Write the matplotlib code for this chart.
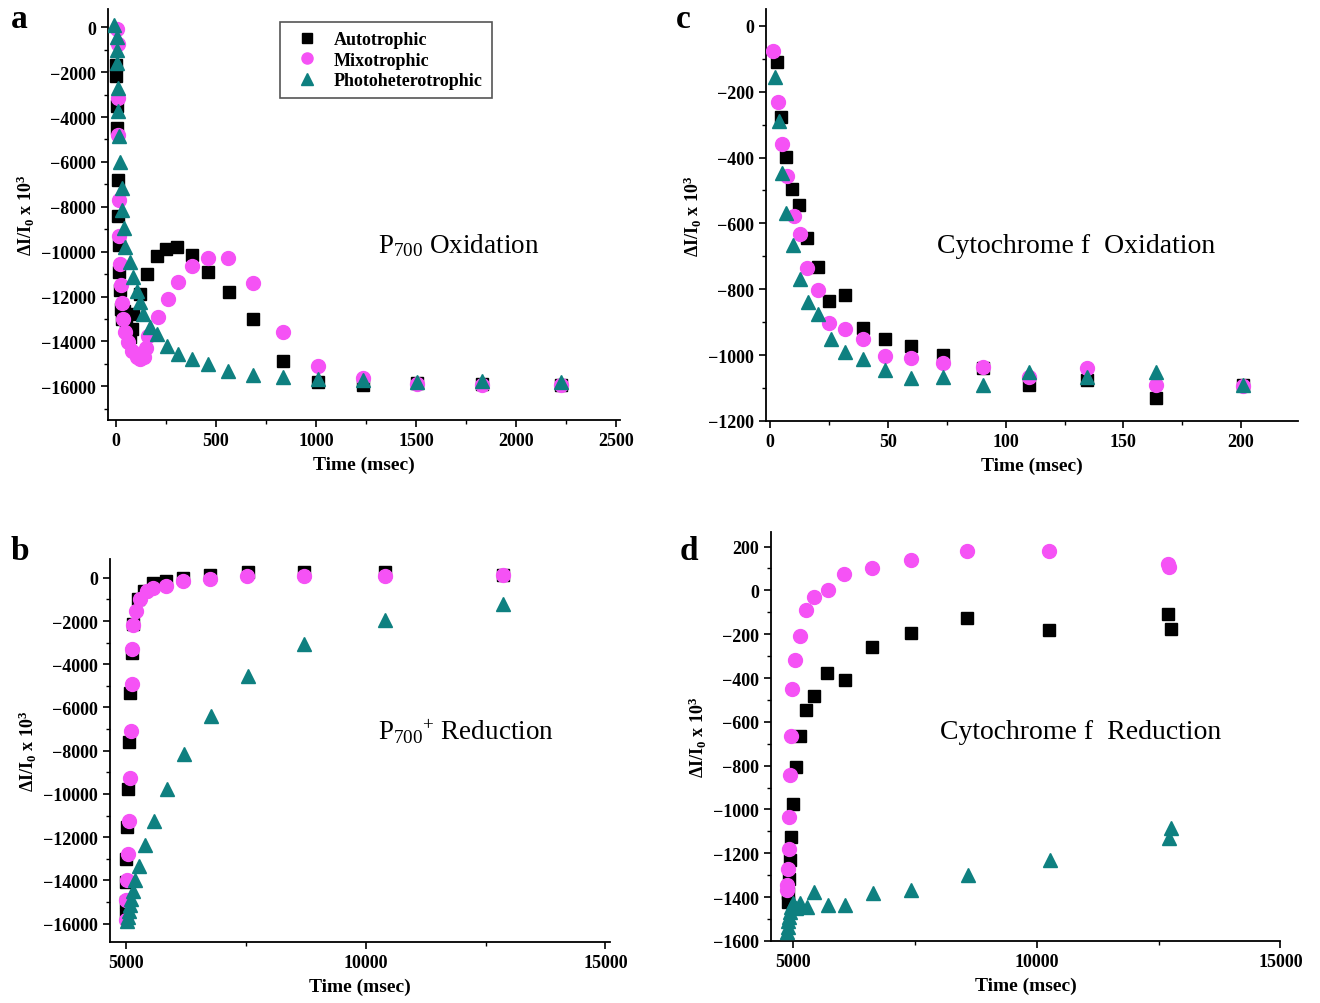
import matplotlib
matplotlib.use('Agg')
import matplotlib.pyplot as plt
from matplotlib.ticker import MultipleLocator

plt.rcParams['font.family'] = ['Liberation Serif', 'DejaVu Serif']
plt.rcParams['mathtext.fontset'] = 'custom'
plt.rcParams['mathtext.rm'] = 'Liberation Serif'
plt.rcParams['mathtext.bf'] = 'Liberation Serif:bold'
plt.rcParams['mathtext.it'] = 'Liberation Serif:italic'

# ---------------------------------------------------------------------------
# Data
# ---------------------------------------------------------------------------
# (a) P700 oxidation
a_auto_t = [0, 2, 4, 6, 8, 10, 13, 16, 20, 25, 30, 40, 50, 70, 80, 85, 120,
            155, 205, 250, 305, 380, 460, 565, 685, 835, 1010, 1235, 1505,
            1830, 2225]
a_auto_y = [-1700, -2150, -3500, -4480, -6800, -8430, -9700, -10900, -11700,
            -12550, -13000, -12630, -13200, -13800, -13440, -12770, -11870,
            -10980, -10200, -9860, -9810, -10170, -10900, -11780, -13000,
            -14870, -15800, -15950, -15850, -15900, -15950]
a_mixo_t = [5, 8, 10, 12, 14, 16, 20, 25, 30, 35, 45, 60, 80, 105, 120, 140,
            150, 160, 210, 260, 310, 380, 460, 560, 685, 835, 1010, 1235,
            1505, 1830, 2225]
a_mixo_y = [-90, -760, -3140, -4790, -7700, -9320, -10530, -11500, -12300,
            -12990, -13580, -14030, -14420, -14700, -14780, -14700, -14300,
            -13750, -12900, -12100, -11340, -10650, -10270, -10270, -11380,
            -13570, -15100, -15650, -15900, -15950, -15950]
a_photo_t = [-10, 5, 6, 7, 9, 10, 14, 22, 28, 32, 40, 45, 70, 85, 105, 120,
             135, 170, 205, 255, 310, 380, 460, 560, 685, 835, 1010, 1235,
             1505, 1830, 2225]
a_photo_y = [90, -450, -1030, -1570, -2690, -3720, -4840, -6000, -7170,
             -8150, -8960, -9770, -10440, -11110, -11740, -12230, -12770,
             -13350, -13660, -14200, -14560, -14780, -15010, -15320, -15500,
             -15590, -15680, -15700, -15800, -15750, -15800]

# (b) P700+ reduction
b_auto_t = [5000, 5000, 5000, 5010, 5020, 5040, 5060, 5090, 5120, 5160,
            5260, 5390, 5570, 5830, 6200, 6750, 7540, 8720, 10410, 12860]
b_auto_y = [-15540, -15000, -14080, -13000, -11540, -9770, -7615, -5340,
            -3460, -2150, -970, -615, -230, -150, 0, 150, 260, 280, 260, 110]
b_mixo_t = [5000, 5010, 5030, 5050, 5060, 5080, 5100, 5120, 5140, 5157,
            5219, 5306, 5437, 5569, 5831, 6198, 6750, 7537, 8718, 10407,
            12856]
b_mixo_y = [-15850, -14920, -14000, -12770, -11230, -9280, -7080, -4920,
            -3280, -2200, -1540, -1000, -615, -460, -385, -150, -50, 80, 80,
            80, 110]
b_photo_t = [5026, 5044, 5061, 5087, 5114, 5149, 5192, 5280, 5394, 5586,
             5849, 6216, 6767, 7555, 8718, 10407, 12873]
b_photo_y = [-15890, -15690, -15430, -15150, -14850, -14510, -14000, -13340,
             -12380, -11230, -9770, -8150, -6380, -4540, -3080, -1950, -1230]

# (c) cytochrome f oxidation
c_auto_t = [3.0, 4.5, 6.8, 9.3, 12.2, 15.8, 20.3, 25.1, 31.7, 39.5, 48.8,
            59.7, 73.5, 90.2, 110, 134.5, 164, 201]
c_auto_y = [-110, -277, -397, -497, -543, -645, -733, -835, -818, -918,
            -952, -972, -1000, -1040, -1090, -1075, -1130, -1090]
c_mixo_t = [1.3, 3.2, 4.8, 7.2, 9.9, 12.6, 15.8, 20.3, 25.1, 31.9, 39.5,
            48.8, 59.7, 73.5, 90.2, 110, 134.5, 164, 201]
c_mixo_y = [-75, -232, -358, -455, -577, -632, -735, -802, -903, -920, -952,
            -1002, -1010, -1025, -1035, -1065, -1040, -1090, -1095]
c_photo_t = [1.8, 3.6, 4.8, 6.6, 9.5, 12.6, 16.1, 20.3, 25.6, 31.9, 39.5,
             48.8, 59.7, 73.5, 90.2, 110, 134.5, 164, 201]
c_photo_y = [-155, -290, -448, -568, -665, -768, -838, -875, -950, -990,
             -1012, -1045, -1070, -1065, -1090, -1050, -1065, -1050, -1090]

# (d) cytochrome f reduction
d_auto_t = [4888, 4897, 4914, 4931, 4957, 5000, 5060, 5129, 5258, 5430,
            5688, 6067, 6609, 7410, 8571, 10250, 12693, 12745]
d_auto_y = [-1421, -1383, -1315, -1232, -1126, -975, -806, -665, -547, -484,
            -378, -408, -257, -193, -124, -181, -106, -177]
d_mixo_t = [4862, 4871, 4888, 4905, 4914, 4931, 4957, 4983, 5034, 5146,
            5258, 5430, 5706, 6050, 6626, 7410, 8571, 10250, 12693, 12719]
d_mixo_y = [-1368, -1345, -1273, -1179, -1035, -843, -665, -449, -317, -209,
            -91, -30, 0, 76, 101, 139, 181, 181, 121, 106]
d_photo_t = [4871, 4888, 4897, 4914, 4931, 4957, 5000, 5060, 5146, 5275,
             5430, 5706, 6067, 6635, 7410, 8588, 10267, 12719, 12745]
d_photo_y = [-1557, -1538, -1511, -1489, -1466, -1443, -1428, -1451, -1428,
             -1443, -1376, -1436, -1436, -1383, -1368, -1300, -1232, -1129,
             -1084]

series_names = ['Autotrophic', 'Mixotrophic', 'Photoheterotrophic']

# ---------------------------------------------------------------------------
# Plot
# ---------------------------------------------------------------------------
col_auto = 'black'
col_mixo = '#F552F5'
col_photo = '#0E8080'

fig = plt.figure(figsize=(13.2, 10.04), dpi=100)
fig.patch.set_facecolor('white')

ax_a = fig.add_axes([0.0818, 0.5807, 0.388, 0.409])
ax_c = fig.add_axes([0.580, 0.5797, 0.403, 0.410])
ax_b = fig.add_axes([0.0833, 0.0608, 0.379, 0.381])
ax_d = fig.add_axes([0.584, 0.0618, 0.386, 0.407])

panels = [
    (ax_a, a_auto_t, a_auto_y, a_mixo_t, a_mixo_y, a_photo_t, a_photo_y),
    (ax_c, c_auto_t, c_auto_y, c_mixo_t, c_mixo_y, c_photo_t, c_photo_y),
    (ax_b, b_auto_t, b_auto_y, b_mixo_t, b_mixo_y, b_photo_t, b_photo_y),
    (ax_d, d_auto_t, d_auto_y, d_mixo_t, d_mixo_y, d_photo_t, d_photo_y),
]

handles = []
for ax, at, ay, mt, my, pt, py in panels:
    h1, = ax.plot(at, ay, 's', color=col_auto, ms=9, mec=col_auto,
                  ls='none', label=series_names[0], zorder=3)
    h2, = ax.plot(mt, my, 'o', color=col_mixo, ms=10, mec=col_mixo,
                  ls='none', label=series_names[1], zorder=4)
    h3, = ax.plot(pt, py, '^', color=col_photo, ms=10.5, mec=col_photo,
                  ls='none', label=series_names[2], zorder=5)
    if not handles:
        handles = [h1, h2, h3]

    for side in ['top', 'right']:
        ax.spines[side].set_visible(False)
    for side in ['left', 'bottom']:
        ax.spines[side].set_linewidth(1.3)
    ax.tick_params(which='major', direction='out', length=5, width=1.2,
                   labelsize=13)
    ax.tick_params(which='minor', direction='out', length=3, width=1.0)
    ax.set_xlabel('Time (msec)', fontsize=14, fontweight='bold', labelpad=5)
    ax.set_ylabel(r'ΔI/I$_{\mathbf{0}}$ x 10$^{\mathbf{3}}$', fontsize=13,
                  fontweight='bold', labelpad=3)

# axis ranges and ticks
ax_a.set_xlim(-40, 2520)
ax_a.set_ylim(-17500, 800)
ax_a.xaxis.set_major_locator(MultipleLocator(500))
ax_a.xaxis.set_minor_locator(MultipleLocator(250))
ax_a.yaxis.set_major_locator(MultipleLocator(2000))
ax_a.yaxis.set_minor_locator(MultipleLocator(1000))

ax_c.set_xlim(-2, 224)
ax_c.set_ylim(-1200, 50)
ax_c.xaxis.set_major_locator(MultipleLocator(50))
ax_c.xaxis.set_minor_locator(MultipleLocator(25))
ax_c.yaxis.set_major_locator(MultipleLocator(200))
ax_c.yaxis.set_minor_locator(MultipleLocator(100))

ax_b.set_xlim(4670, 15100)
ax_b.set_ylim(-16850, 850)
ax_b.xaxis.set_major_locator(MultipleLocator(5000))
ax_b.xaxis.set_minor_locator(MultipleLocator(2500))
ax_b.yaxis.set_major_locator(MultipleLocator(2000))
ax_b.yaxis.set_minor_locator(MultipleLocator(1000))

ax_d.set_xlim(4540, 15000)
ax_d.set_ylim(-1600, 265)
ax_d.xaxis.set_major_locator(MultipleLocator(5000))
ax_d.xaxis.set_minor_locator(MultipleLocator(2500))
ax_d.yaxis.set_major_locator(MultipleLocator(200))
ax_d.yaxis.set_minor_locator(MultipleLocator(100))

for ax in [ax_a, ax_b, ax_c, ax_d]:
    for lbl in ax.get_xticklabels() + ax.get_yticklabels():
        lbl.set_fontweight('bold')

# panel annotations
ax_a.text(0.527, 0.426, r'P$_{\mathrm{700}}$ Oxidation', transform=ax_a.transAxes,
          fontsize=19.5, va='center', ha='left')
ax_c.text(0.323, 0.427, 'Cytochrome f  Oxidation', transform=ax_c.transAxes,
          fontsize=20, va='center', ha='left')
ax_b.text(0.536, 0.551, r'P$_{\mathrm{700}}{}^{\mathrm{+}}$ Reduction',
          transform=ax_b.transAxes, fontsize=19.5, va='center', ha='left')
ax_d.text(0.332, 0.513, 'Cytochrome f  Reduction', transform=ax_d.transAxes,
          fontsize=20, va='center', ha='left')

# panel letters
for letter, x, y in [('a', 0.008, 0.996), ('c', 0.512, 0.996),
                     ('b', 0.008, 0.466), ('d', 0.515, 0.466)]:
    fig.text(x, y, letter, fontsize=24, fontweight='bold', va='top', ha='left')

# legend
leg = fig.legend(handles=handles, loc='upper left',
                 bbox_to_anchor=(0.205, 0.986), bbox_transform=fig.transFigure,
                 prop={'weight': 'bold', 'size': 13}, frameon=True,
                 fancybox=False, framealpha=1, edgecolor='#555555',
                 handletextpad=0.5, borderpad=0.5, labelspacing=0.2,
                 markerscale=0.8)
leg.get_frame().set_linewidth(1.2)

fig.savefig('out.png', dpi=100, facecolor='white')
plt.close(fig)
